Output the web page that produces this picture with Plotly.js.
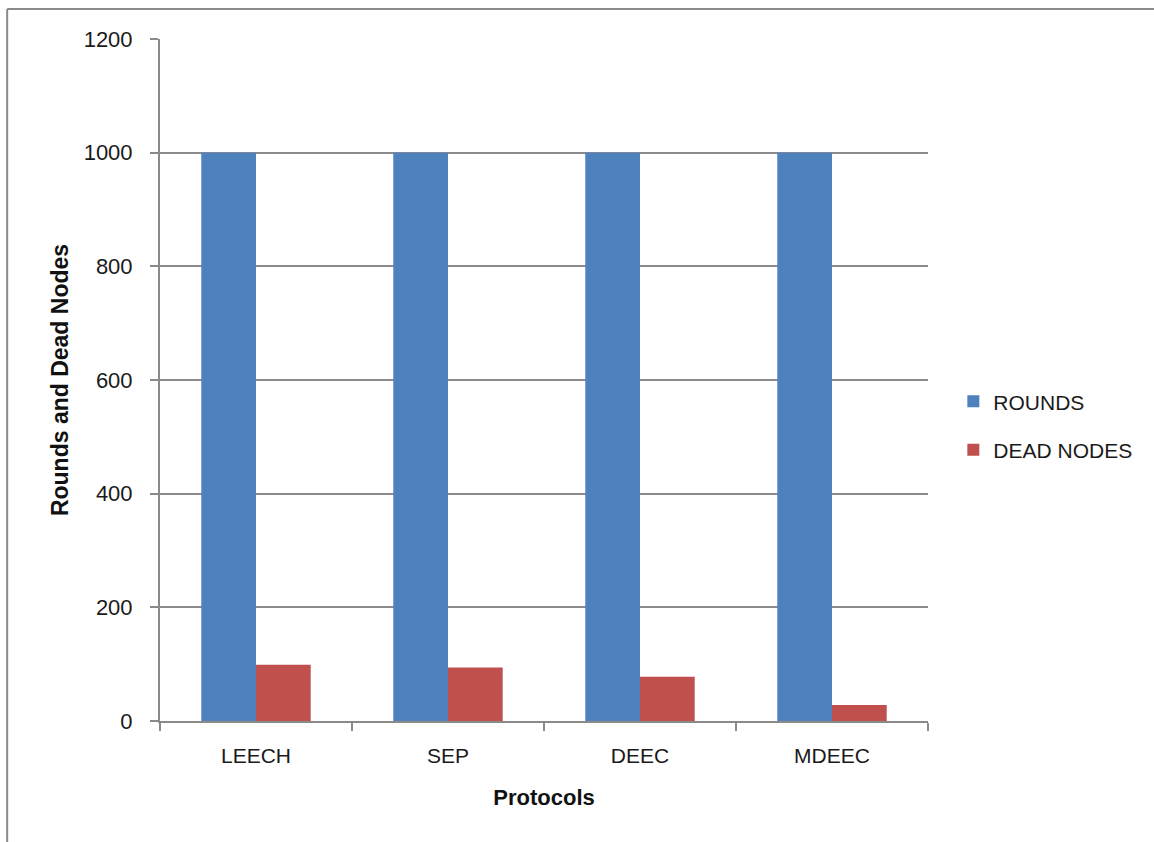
<!DOCTYPE html>
<html>
<head>
<meta charset="utf-8">
<script src="https://cdn.plot.ly/plotly-3.0.1.min.js"></script>
<style>
  html, body { margin: 0; padding: 0; background: #fff; }
  #chart { width: 1154px; height: 842px; }
</style>
</head>
<body>
<div id="chart"></div>
<script>
// Protocol comparison: rounds run vs. dead nodes
const protocols = ['LEECH', 'SEP', 'DEEC', 'MDEEC'];
const rounds = [1000, 1000, 1000, 1000];
const deadNodes = [99, 94, 78, 28];
const yTicks = [0, 200, 400, 600, 800, 1000, 1200];

const FONT = '"Liberation Sans", Arial, sans-serif';
const GRID = '#8a8a8a';
const INK = '#1a1a1a';

const traces = [
  {
    type: 'bar', name: 'ROUNDS', x: protocols, y: rounds,
    marker: { color: '#4f81bd' }, legendgroup: 'r', hoverinfo: 'x+y'
  },
  {
    type: 'bar', name: 'DEAD NODES', x: protocols, y: deadNodes,
    marker: { color: '#c0504d' }, legendgroup: 'd', hoverinfo: 'x+y'
  }
];

const layout = {
  width: 1154, height: 842,
  margin: { l: 160, r: 226, t: 39, b: 121, pad: 0 },
  paper_bgcolor: '#ffffff', plot_bgcolor: '#ffffff',
  font: { family: FONT, color: INK, size: 20 },
  barmode: 'group', bargap: 0.43, bargroupgap: 0,
  showlegend: true,
  legend: {
    x: 1.033, xanchor: 'left', y: 0.433, yanchor: 'middle',
    xref: 'paper', yref: 'paper',
    font: { family: FONT, size: 21, color: INK },
    traceorder: 'grouped', tracegroupgap: 18,
    bgcolor: 'rgba(0,0,0,0)'
  },
  xaxis: {
    type: 'category',
    showline: true, linecolor: GRID, linewidth: 2,
    ticks: 'outside', ticklen: 8, tickwidth: 2, tickcolor: GRID,
    tickson: 'boundaries',
    tickfont: { family: FONT, size: 21, color: INK },
    ticklabelstandoff: 15,
    showgrid: false, zeroline: false,
    title: { text: '<b>Protocols</b>', font: { family: FONT, size: 22, color: '#111' }, standoff: 23 }
  },
  yaxis: {
    range: [0, 1200],
    tickvals: yTicks, ticktext: yTicks.map(String),
    showline: true, linecolor: GRID, linewidth: 2,
    ticks: 'outside', ticklen: 8, tickwidth: 2, tickcolor: GRID,
    tickfont: { family: FONT, size: 22, color: INK },
    ticklabelstandoff: 13,
    showgrid: true, gridcolor: GRID, gridwidth: 2,
    zeroline: false,
    title: { text: '<b>Rounds and Dead Nodes</b>', font: { family: FONT, size: 23, color: '#111' }, standoff: 9 }
  },
  shapes: [
    // chart frame: top and left edges
    { type: 'line', xref: 'paper', yref: 'paper', x0: -0.199, x1: 1.4, y0: 1.044, y1: 1.044,
      line: { color: GRID, width: 2 } },
    { type: 'line', xref: 'paper', yref: 'paper', x0: -0.199, x1: -0.199, y0: 1.044, y1: -0.2,
      line: { color: GRID, width: 2 } }
  ]
};

Plotly.newPlot('chart', traces, layout, { displayModeBar: false, staticPlot: true });
</script>
</body>
</html>
